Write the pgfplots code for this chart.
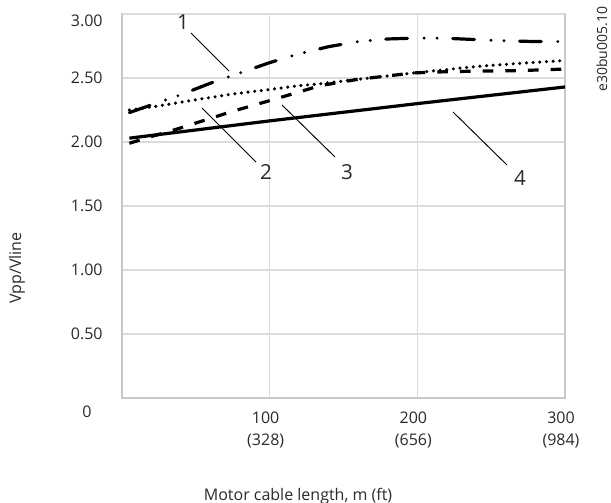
\documentclass[border=0pt]{standalone}
\usepackage{fontspec}
\setmainfont{Open Sans}
\usepackage{pgfplots}
\pgfplotsset{compat=1.18}
\definecolor{txt}{HTML}{2A2A2A}
\definecolor{gridc}{HTML}{DCDCDC}
\definecolor{axc}{HTML}{C8C8C8}
\begin{document}
\begin{tikzpicture}
\begin{axis}[
  at={(91.5pt,-298.5pt)}, anchor=south west,
  scale only axis, width=332.25pt, height=288pt,
  xmin=0, xmax=300, ymin=0, ymax=3,
  xtick={100,200,300},
  xticklabels={100\\(328),200\\(656),300\\(984)},
  xticklabel style={align=center, font=\fontsize{12}{16.5}\selectfont, text=txt, xshift=-3pt, yshift=-7pt},
  ytick={0.5,1,1.5,2,2.5},
  yticklabels={0.50,1.00,1.50,2.00,2.50},
  extra y ticks={3}, extra y tick labels={3.00},
  extra y tick style={yticklabel style={yshift=-5pt}},
  yticklabel style={font=\fontsize{12}{14}\selectfont, text=txt, xshift=-11pt},
  /pgf/number format/assume math mode=true,
  grid=major, major grid style={draw=gridc, line width=0.8pt},
  axis line style={draw=axc, line width=1pt},
  tick style={draw=none},
  clip=false,
]
\addplot[black, line width=2.4pt] coordinates {(5,2.03) (100,2.165) (200,2.30) (300,2.43)};
\addplot[black, line width=2.4pt, dash pattern=on 8pt off 9pt] coordinates {
 (5,1.99) (19,2.04) (37,2.10) (60,2.185) (75,2.24) (93,2.30) (105,2.34) (124,2.405) (134,2.44) (160,2.49) (198,2.54) (222,2.55) (250,2.555) (270,2.558) (300,2.57)};
\addplot[black, line width=2.6pt, line cap=round, dash pattern=on 0pt off 5pt] coordinates {
 (5,2.25) (24,2.28) (50,2.33) (75,2.375) (100,2.41) (120,2.44) (134,2.455) (160,2.49) (198,2.54) (240,2.59) (270,2.615) (297,2.635)};
\addplot[black, line width=2.4pt, line cap=round, dash pattern=on 16.3pt off 12.4pt on 0pt off 9.8pt on 0pt off 11.7pt] coordinates {
 (5,2.23) (20,2.29) (40,2.37) (60,2.46) (80,2.54) (100,2.62) (120,2.69) (140,2.745) (160,2.785) (180,2.805) (200,2.812) (220,2.81) (240,2.80) (260,2.79) (280,2.785) (297,2.785)};
\end{axis}
\begin{scope}[x=0.75pt, y=-0.75pt]
 \node[text=txt, font=\fontsize{12}{14}\selectfont] at (87,412) {0};
 \node[text=txt, font=\fontsize{12}{14}\selectfont, rotate=90] at (17,268) {Vpp/Vline};
 \node[text=txt, font=\fontsize{12}{14}\selectfont, anchor=base] at (298,500) {Motor cable length, m (ft)};
 \node[text=txt, font=\fontsize{10.5}{13}\selectfont, rotate=90, anchor=base west, inner sep=0pt] at (607,92) {e30bu005.10};
 \begin{scope}[font=\fontsize{15.5}{18}\selectfont, text=txt]
  \node at (183,22) {1};
  \node at (266,172) {2};
  \node at (347,172) {3};
  \node at (520,178) {4};
 \end{scope}
 \draw[black, line width=0.7pt] (191,33) -- (229,71);
 \draw[black, line width=0.7pt] (202,108) -- (256,162);
 \draw[black, line width=0.7pt] (282,105) -- (335,157);
 \draw[black, line width=0.7pt] (453,112) -- (507,165);
 \pgfresetboundingbox
 \path[use as bounding box] (0,0) rectangle (611,503);
\end{scope}
\end{tikzpicture}
\end{document}
